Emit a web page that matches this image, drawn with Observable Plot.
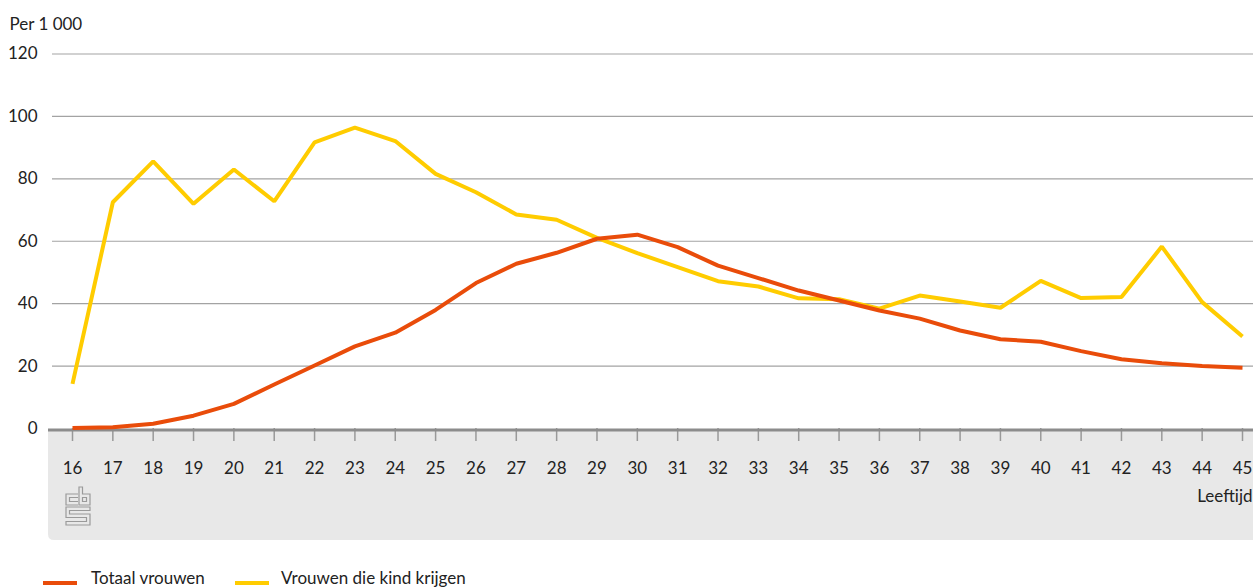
<!DOCTYPE html>
<html>
<head>
<meta charset="utf-8">
<script src="https://cdn.jsdelivr.net/npm/d3@7"></script>
<script src="https://cdn.jsdelivr.net/npm/@observablehq/plot@0.6"></script>
<style>
  html, body { margin: 0; padding: 0; background: #fff; }
  #wrap { position: relative; width: 1253px; height: 588px; overflow: hidden; font-family: Lato, sans-serif; color: #222; }
  #wrap svg { display: block; }
  .lg { position: absolute; font-size: 17px; line-height: 20px; white-space: nowrap; }
  .sw { position: absolute; height: 4px; width: 34px; }
</style>
</head>
<body>
<div id="wrap"></div>
<script>
// ---- data ----
const ages = [16,17,18,19,20,21,22,23,24,25,26,27,28,29,30,31,32,33,34,35,36,37,38,39,40,41,42,43,44,45];
const totaalVrouwen = [0.2,0.4,1.5,4.1,7.9,14.1,20.2,26.3,30.7,38.0,46.6,52.8,56.3,60.8,62.1,58.1,52.2,48.2,44.2,41.0,37.8,35.2,31.4,28.6,27.8,24.8,22.2,20.9,20.0,19.5];
const vrouwenKind = [14.3,72.5,85.6,72.0,83.0,72.8,91.7,96.4,92.1,81.6,75.7,68.6,66.9,61.1,56.2,51.7,47.2,45.5,41.7,41.4,38.4,42.6,40.7,38.7,47.3,41.8,42.1,58.3,40.5,29.5];
const yTicks = [0,20,40,60,80,100,120];
const seriesNames = ["Totaal vrouwen", "Vrouwen die kind krijgen"];
const seriesColors = ["#E94C0A", "#FFCC00"];
const yLabel = "Per 1 000";
const xLabel = "Leeftijd";

const rowsTotaal = ages.map((a, i) => ({age: a, value: totaalVrouwen[i]}));
const rowsKind = ages.map((a, i) => ({age: a, value: vrouwenKind[i]}));

// decorative grey band under the axis + CBS logo
function band(index, scales, values, dims) {
  const g = d3.create("svg:g");
  const top = dims.height - dims.marginBottom + 2;
  const bottom = top + 110;
  const left = 48, right = dims.width + 5, r = 6;
  g.append("path")
    .attr("d", `M${left},${top}H${right}V${bottom}H${left + r}Q${left},${bottom} ${left},${bottom - r}Z`)
    .attr("fill", "#e8e8e8");
  const lx = 66, ly = top + 57;
  const logo = g.append("g").attr("transform", `translate(${lx},${ly})`)
    .attr("fill", "none").attr("stroke", "#9a9a9a").attr("stroke-width", 1.2);
  logo.append("path").attr("d", "M12,7H0V18H12M12,10.5H3.5V14.5H12");
  logo.append("path").attr("d", "M13,0H16.5V7H24V18H13Z M16.5,10.5H20.5V14.5H16.5Z");
  logo.append("path").attr("d", "M0,20H24V23.5H3.5V27H24V38H0V34.5H20.5V30.5H0Z");
  return g.node();
}

const W = 1253, H = 556;
const chart = Plot.plot({
  width: W,
  height: H,
  marginLeft: 72,
  marginRight: 11,
  marginTop: 53.5,
  marginBottom: 128,
  style: {fontFamily: "Lato, sans-serif", fontSize: "17px", color: "#222", background: "transparent"},
  x: {domain: [16, 45], label: null},
  y: {domain: [0, 120], label: null},
  marks: [
    band,
    Plot.ruleY(yTicks.filter(d => d > 0), {stroke: "#a3a3a3", strokeWidth: 1.2, insetLeft: -20, insetRight: -11}),
    Plot.axisY({ticks: yTicks, tickSize: 0, tickPadding: 35, label: null, fill: "#222", fontSize: 17}),
    Plot.axisX({ticks: ages, tickFormat: d => String(d), tickSize: 13, tickPadding: 20, label: null, stroke: "#999", strokeWidth: 1.5, fill: "#222", fontSize: 17}),
    Plot.ruleY([0], {stroke: "#8c8c8c", strokeWidth: 3, dy: 1.5, insetLeft: -24, insetRight: -11}),
    Plot.line(rowsKind, {x: "age", y: "value", stroke: seriesColors[1], strokeWidth: 4, strokeLinejoin: "miter", strokeLinecap: "butt"}),
    Plot.line(rowsTotaal, {x: "age", y: "value", stroke: seriesColors[0], strokeWidth: 4, strokeLinejoin: "miter", strokeLinecap: "butt"}),
    Plot.text([yLabel], {frameAnchor: "top-left", textAnchor: "start", lineAnchor: "middle", dx: -63, dy: -29.4, fill: "#222", fontSize: 17}),
    Plot.text([xLabel], {frameAnchor: "bottom-right", textAnchor: "end", lineAnchor: "middle", dx: 10, dy: 67.6, fill: "#222", fontSize: 17})
  ]
});

const wrap = document.getElementById("wrap");
wrap.appendChild(chart);

// legend below the svg
const legendX = [[43, 91], [235, 281]];
seriesNames.forEach((name, i) => {
  const sw = document.createElement("div");
  sw.className = "sw";
  sw.style.left = legendX[i][0] + "px";
  sw.style.top = "581px";
  sw.style.background = seriesColors[i];
  wrap.appendChild(sw);
  const t = document.createElement("div");
  t.className = "lg";
  t.style.left = legendX[i][1] + "px";
  t.style.top = "568px";
  t.textContent = name;
  wrap.appendChild(t);
});
</script>
</body>
</html>
